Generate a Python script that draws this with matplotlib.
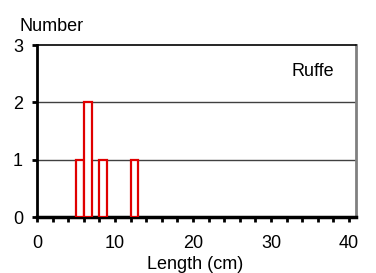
import matplotlib
matplotlib.use("Agg")
import matplotlib.pyplot as plt
import numpy as np

plt.rcParams['font.family'] = ['Liberation Sans', 'DejaVu Sans']

# Data
bin_left = [5, 6, 8, 12]
counts = [1, 2, 1, 1]
bin_width = 1
x_ticks = [0, 10, 20, 30, 40]
y_ticks = [0, 1, 2, 3]
species = "Ruffe"

fig = plt.figure(figsize=(3.76, 2.73), dpi=100)
ax = fig.add_axes([37/376, 1-217/273, (356-37)/376, (217-45)/273])

ax.bar(bin_left, counts, width=bin_width, align='edge', facecolor='white',
       edgecolor='#e00000', linewidth=1.6, zorder=3)

for y in [1, 2]:
    ax.axhline(y, color='#404040', lw=1.0, zorder=1)

ax.set_xlim(0, 40.9)
ax.set_ylim(0, 3)
ax.set_xticks(x_ticks)
ax.set_xticks(np.arange(0, 41, 2), minor=True)
ax.set_yticks(y_ticks)

ax.spines['left'].set_linewidth(2)
ax.spines['left'].set_color('black')
ax.spines['bottom'].set_linewidth(2.5)
ax.spines['bottom'].set_color('black')
ax.spines['top'].set_linewidth(1.2)
ax.spines['top'].set_color('black')
ax.spines['right'].set_linewidth(2)
ax.spines['right'].set_color('#808080')

ax.tick_params(axis='x', which='both', direction='out', length=3.6, width=2, pad=9, labelsize=13)
ax.tick_params(axis='y', which='both', direction='out', length=3.6, width=2, pad=6.5, labelsize=13)

ax.text(32.65, 2.466, species, fontsize=13, ha='left', va='baseline')
fig.text(19.3/376, 1-31/273, "Number", fontsize=13, ha='left', va='baseline')
fig.text(195.5/376, 1-269/273, "Length (cm)", fontsize=13, ha='center', va='baseline')

fig.savefig("out.png", dpi=100)
